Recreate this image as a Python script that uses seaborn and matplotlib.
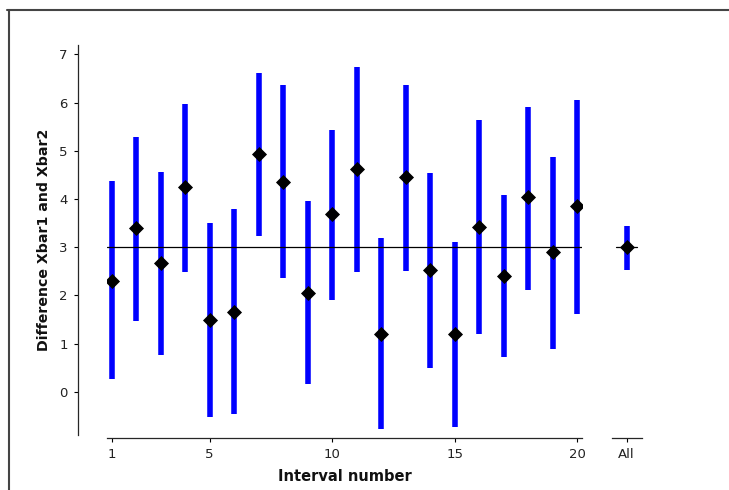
import numpy as np
import pandas as pd
import matplotlib
matplotlib.use("Agg")
import matplotlib.pyplot as plt
from matplotlib.lines import Line2D
import seaborn as sns

# Twenty confidence intervals for the difference of two sample means
interval = list(range(1, 21))
mean_diff = [2.30, 3.39, 2.68, 4.25, 1.49, 1.66, 4.93, 4.35, 2.04, 3.69,
             4.62, 1.19, 4.46, 2.52, 1.19, 3.42, 2.41, 4.04, 2.89, 3.85]
lower = [0.26, 1.47, 0.76, 2.48, -0.52, -0.46, 3.23, 2.35, 0.15, 1.90,
         2.48, -0.78, 2.51, 0.49, -0.73, 1.19, 0.73, 2.11, 0.89, 1.61]
upper = [4.38, 5.28, 4.56, 5.98, 3.51, 3.80, 6.61, 6.37, 3.96, 5.44,
         6.74, 3.18, 6.37, 4.54, 3.11, 5.63, 4.09, 5.91, 4.86, 6.05]

# Pooled interval over all samples
all_label = "All"
all_mean = 3.00
all_lower = 2.53
all_upper = 3.44

# True difference of population means
true_diff = 3.0

x_ticks = [1, 5, 10, 15, 20]
y_ticks = [0, 1, 2, 3, 4, 5, 6, 7]

df = pd.DataFrame({"interval": interval, "mean": mean_diff,
                   "lower": lower, "upper": upper})
df_all = pd.DataFrame({"pos": [0], "mean": [all_mean],
                       "lower": [all_lower], "upper": [all_upper]})

sns.set_style("ticks")
plt.rcParams["font.family"] = ["DejaVu Sans"]

W, H = 729, 490
fig = plt.figure(figsize=(W / 100, H / 100), dpi=100)

blue = "#0000ff"
bar_lw = 4.0
mk_size = 50

ax = fig.add_axes([106.6 / W, 1 - 435.1 / H, 475.8 / W, 390.4 / H])
ax2 = fig.add_axes([611.6 / W, 1 - 435.1 / H, 30.0 / W, 390.4 / H], sharey=ax)

# Main panel: each interval as a thick vertical bar with its mean
ax.vlines(df["interval"], df["lower"], df["upper"], color=blue,
          linewidth=bar_lw, zorder=2)
ax.axhline(true_diff, color="black", linewidth=0.9, zorder=3)
sns.scatterplot(data=df, x="interval", y="mean", marker="D", s=mk_size,
                color="black", edgecolor="black", linewidth=0.6,
                zorder=4, ax=ax, legend=False)

ax.set_xlim(0.8, 20.2)
ax.set_ylim(-0.9, 7.2)
ax.set_xticks(x_ticks)
ax.set_yticks(y_ticks)
ax.set_xlabel("Interval number", fontsize=10.5, fontweight="bold", labelpad=6,
              color="#111111")
ax.set_ylabel("Difference Xbar1 and Xbar2", fontsize=10.2, fontweight="bold",
              labelpad=6, color="#111111")

# Side panel: pooled interval
ax2.vlines(df_all["pos"], df_all["lower"], df_all["upper"], color=blue,
           linewidth=bar_lw, zorder=2)
ax2.axhline(true_diff, xmin=0.15, xmax=0.85, color="black", linewidth=0.9,
            zorder=3)
sns.scatterplot(data=df_all, x="pos", y="mean", marker="D", s=mk_size,
                color="black", edgecolor="black", linewidth=0.6,
                zorder=4, ax=ax2, legend=False)
ax2.set_xlim(-0.5, 0.5)
ax2.set_xticks([0])
ax2.set_xticklabels([all_label])
ax2.set_xlabel("")
ax2.set_ylabel("")

for a in (ax, ax2):
    for side in ("top", "right"):
        a.spines[side].set_visible(False)
    a.spines["bottom"].set_position(("outward", 2.2))
    a.spines["bottom"].set_linewidth(0.9)
    a.spines["left"].set_linewidth(0.9)
    a.tick_params(axis="both", labelsize=9.5, length=3, width=0.8,
                  color="black", labelcolor="#222222", pad=4)
    a.patch.set_alpha(0)

ax.spines["left"].set_position(("outward", 20.9))
ax2.spines["left"].set_visible(False)
ax2.tick_params(axis="y", left=False, labelleft=False)

# Frame lines along the top and left edge of the figure
frame_kw = dict(color="#444444", linewidth=1.5, transform=fig.transFigure)
fig.add_artist(Line2D([7 / W, 1.0], [1 - 10.5 / H, 1 - 10.5 / H], **frame_kw))
fig.add_artist(Line2D([8.5 / W, 8.5 / W], [0.0, 1 - 10.5 / H], **frame_kw))

fig.savefig("out.png", dpi=100)
